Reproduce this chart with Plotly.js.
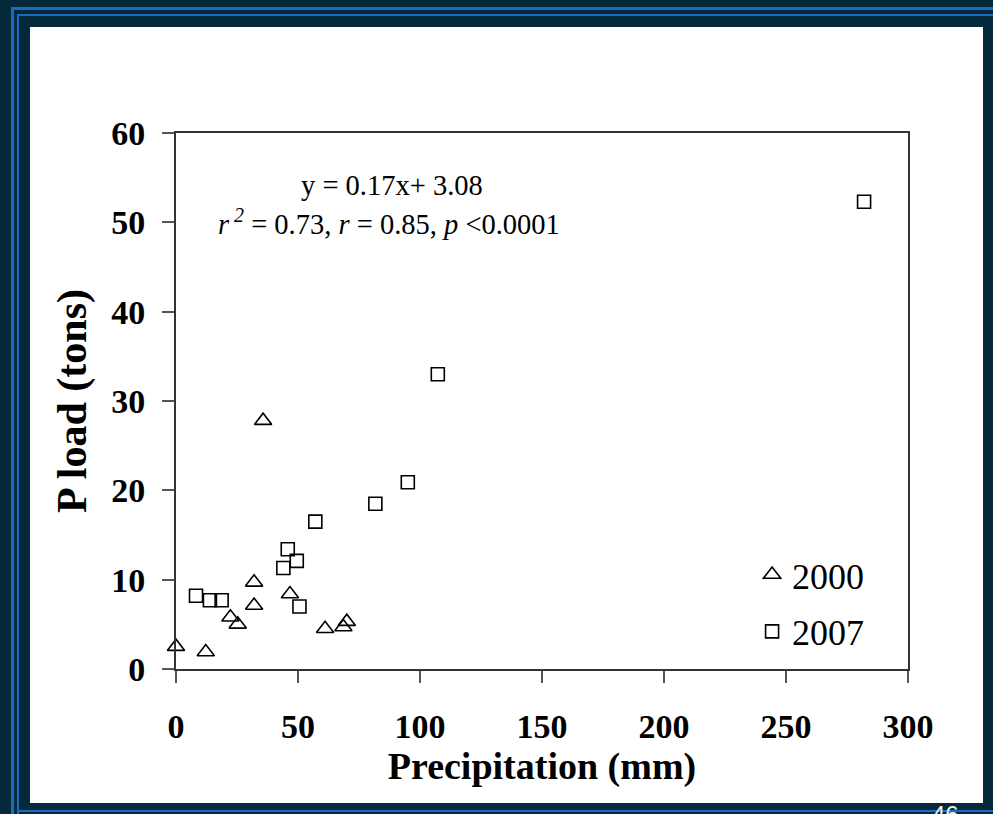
<!DOCTYPE html>
<html>
<head>
<meta charset="utf-8">
<script src="https://cdn.plot.ly/plotly-3.0.1.min.js"></script>
<style>
html,body{margin:0;padding:0;width:993px;height:814px;overflow:hidden;background:#03293a;}
.f{position:absolute;background:#1a6cc2;}
#panel{position:absolute;left:30px;top:27px;width:953px;height:776px;background:#ffffff;}
#chart{position:absolute;left:0;top:0;width:993px;height:814px;}
#pg{position:absolute;left:932px;top:803px;font-family:"Liberation Sans",Arial,sans-serif;font-size:24px;color:#e8eef2;line-height:24px;}
</style>
</head>
<body>
<div class="f" style="left:11px;top:7px;width:3px;height:807px;"></div>
<div class="f" style="left:11px;top:7px;width:982px;height:3px;"></div>
<div class="f" style="left:17px;top:14px;width:2px;height:800px;"></div>
<div class="f" style="left:17px;top:14px;width:976px;height:2px;"></div>
<div class="f" style="left:18px;top:810px;width:975px;height:2px;"></div>
<div id="panel"></div>
<div id="pg">46</div>
<div id="chart"></div>
<script>
// 2000 series
const precip2000 = [0, 12.2, 22.3, 25.3, 32, 32, 35.7, 46.7, 61.1, 68.6, 70];
const load2000   = [2.5, 1.9, 5.8, 5.0, 9.7, 7.1, 27.8, 8.4, 4.5, 4.7, 5.3];
// 2007 series
const precip2007 = [8.2, 13.9, 18.7, 44, 45.8, 49.5, 50.6, 57.1, 81.7, 95, 107.3, 282];
const load2007   = [8.2, 7.7, 7.7, 11.3, 13.4, 12.1, 7.0, 16.5, 18.5, 20.9, 33.0, 52.3];
const seriesNames = ["2000", "2007"];
const xTicks = [0, 50, 100, 150, 200, 250, 300];
const yTicks = [0, 10, 20, 30, 40, 50, 60];

const serif = "'Liberation Serif','Times New Roman',serif";

const traces = [
  {x: precip2000, y: load2000, name: seriesNames[0], type: "scatter", mode: "markers",
   legendgroup: "a", cliponaxis: false,
   marker: {symbol: "triangle-up-open", size: 15, color: "#000", line: {width: 1.6, color: "#000"}}},
  {x: precip2007, y: load2007, name: seriesNames[1], type: "scatter", mode: "markers",
   legendgroup: "b", cliponaxis: false,
   marker: {symbol: "square-open", size: 13, color: "#000", line: {width: 1.6, color: "#000"}}}
];

const layout = {
  width: 993, height: 814,
  paper_bgcolor: "rgba(0,0,0,0)", plot_bgcolor: "rgba(0,0,0,0)",
  margin: {l: 176, r: 85.3, t: 133, b: 145, pad: 0},
  showlegend: true,
  legend: {x: 0.787, y: 0.232, xanchor: "left", yanchor: "top",
           font: {family: serif, size: 36, color: "#000"},
           bgcolor: "rgba(0,0,0,0)", tracegroupgap: 7, traceorder: "grouped",
           itemwidth: 30},
  xaxis: {range: [0, 300], tickvals: xTicks, ticktext: xTicks.map(String),
          showgrid: false, zeroline: false, showline: true, linecolor: "#333", linewidth: 2,
          mirror: true, ticks: "outside", ticklen: 12, tickwidth: 2, tickcolor: "#555",
          ticklabelstandoff: 14,
          tickfont: {family: serif, size: 34, color: "#000", weight: "bold"},
          title: {text: "<b>Precipitation (mm)</b>", standoff: 8,
                  font: {family: serif, size: 38, color: "#000"}}},
  yaxis: {range: [0, 60], tickvals: yTicks, ticktext: yTicks.map(String),
          showgrid: false, zeroline: false, showline: true, linecolor: "#333", linewidth: 2,
          mirror: true, ticks: "outside", ticklen: 12, tickwidth: 2, tickcolor: "#555",
          ticklabelstandoff: 10,
          tickfont: {family: serif, size: 34, color: "#000", weight: "bold"},
          title: {text: "<b>P load (tons)</b>", standoff: 12,
                  font: {family: serif, size: 42, color: "#000"}}},
  annotations: [
    {xref: "x", yref: "y", x: 88.6, y: 54.1, showarrow: false, xanchor: "center", yanchor: "middle",
     text: "y = 0.17x+ 3.08", font: {family: serif, size: 28.5, color: "#000"}},
    {xref: "x", yref: "y", x: 16.5, y: 50.0, showarrow: false, xanchor: "left", yanchor: "middle",
     text: "<i>r</i><sup> <i>2</i></sup> = 0.73, <i>r</i> = 0.85, <i>p</i> &lt;0.0001",
     font: {family: serif, size: 28.5, color: "#000"}}
  ]
};

Plotly.newPlot("chart", traces, layout, {displayModeBar: false, staticPlot: true});
</script>
</body>
</html>
